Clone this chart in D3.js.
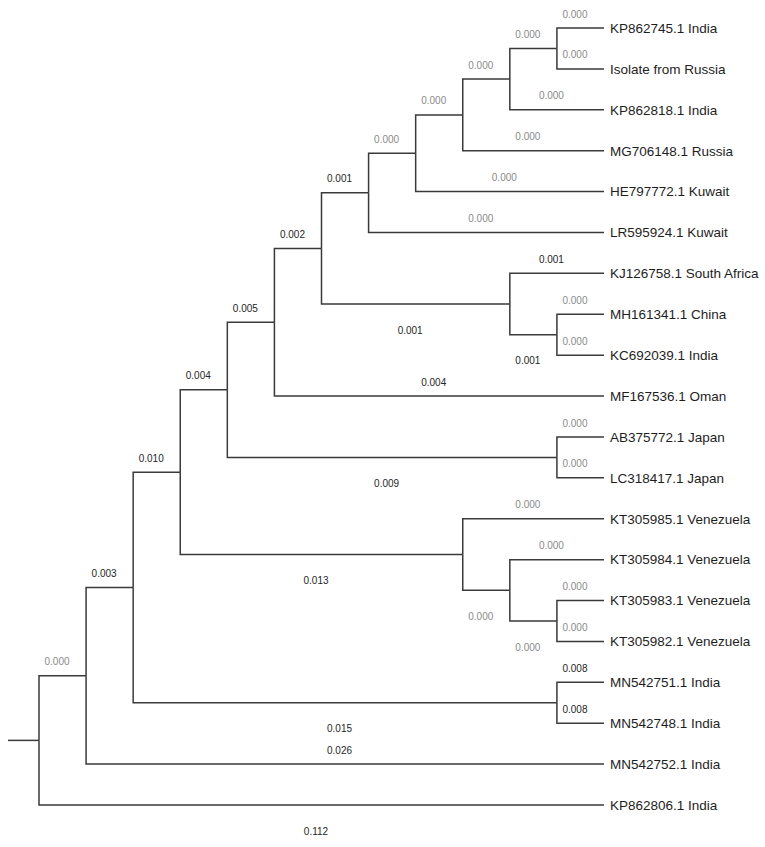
<!DOCTYPE html>
<html>
<head>
<meta charset="utf-8">
<script src="https://cdn.jsdelivr.net/npm/d3@7"></script>
<style>
  body { margin: 0; background: white; }
  .branch { fill: none; stroke: #3a3a3a; stroke-width: 1.5; }
  .tip { font-family: "Liberation Sans", Arial, sans-serif; font-size: 13.5px; fill: #1e1e1e; }
  .blen { font-family: "Liberation Sans", Arial, sans-serif; font-size: 10px; text-anchor: middle; }
</style>
</head>
<body>
<svg id="tree" width="765" height="847"></svg>
<script>
// tree topology: one row per node (id, parent, branch length to parent)
var nodeIds = [
  "root", "n1", "n2", "n3", "n4", "n5", "n6", "n7", "n8", "n9", "n10", "n11",
  "KP862745.1 India", "Isolate from Russia", "KP862818.1 India", "MG706148.1 Russia",
  "HE797772.1 Kuwait", "LR595924.1 Kuwait",
  "sa", "KJ126758.1 South Africa", "mhkc", "MH161341.1 China", "KC692039.1 India",
  "MF167536.1 Oman",
  "jp", "AB375772.1 Japan", "LC318417.1 Japan",
  "ven", "KT305985.1 Venezuela", "ven2", "KT305984.1 Venezuela", "ven3",
  "KT305983.1 Venezuela", "KT305982.1 Venezuela",
  "mn", "MN542751.1 India", "MN542748.1 India",
  "MN542752.1 India", "KP862806.1 India"
];
var parentIds = [
  "", "root", "n1", "n2", "n3", "n4", "n5", "n6", "n7", "n8", "n9", "n10",
  "n11", "n11", "n10", "n9",
  "n8", "n7",
  "n6", "sa", "sa", "mhkc", "mhkc",
  "n5",
  "n4", "jp", "jp",
  "n3", "ven", "ven", "ven2", "ven2",
  "ven3", "ven3",
  "n2", "mn", "mn",
  "n1", "root"
];
var branchLengths = [
  null, 0.000, 0.003, 0.010, 0.004, 0.005, 0.002, 0.001, 0.000, 0.000, 0.000, 0.000,
  0.000, 0.000, 0.000, 0.000,
  0.000, 0.000,
  0.001, 0.001, 0.001, 0.000, 0.000,
  0.004,
  0.009, 0.000, 0.000,
  0.013, 0.000, 0.000, 0.000, 0.000,
  0.000, 0.000,
  0.015, 0.008, 0.008,
  0.026, 0.112
];

var rows = nodeIds.map(function(d, i) {
  return {id: d, parent: parentIds[i], len: branchLengths[i]};
});

var root = d3.stratify()
  .id(function(d) { return d.id; })
  .parentId(function(d) { return d.parent || null; })(rows);

// cladogram: tips aligned, internal nodes placed by height
// d3.cluster pads half a row at each end, so widen the extent by one row
var firstY = 28, lastY = 805, marginL = 39, tipX = 604;
var nLeaves = root.leaves().length;
var rowH = (lastY - firstY) / (nLeaves - 1);
var marginT = firstY - rowH / 2;
d3.cluster()
  .size([rowH * nLeaves, tipX - marginL])
  .separation(function() { return 1; })(root);

var svg = d3.select("#tree");
var g = svg.append("g").attr("transform", "translate(" + marginL + "," + marginT + ")");

// root stub
g.append("path")
  .attr("class", "branch")
  .attr("d", "M" + (8 - marginL) + "," + root.x + "H" + root.y);

// elbow links
g.selectAll(".link")
  .data(root.links())
  .enter().append("path")
  .attr("class", "branch")
  .attr("d", function(d) {
    return "M" + d.source.y + "," + d.source.x + "V" + d.target.x + "H" + d.target.y;
  });

// tip names
g.selectAll(".tip")
  .data(root.leaves())
  .enter().append("text")
  .attr("class", "tip")
  .attr("x", function(d) { return d.y + 6; })
  .attr("y", function(d) { return d.x; })
  .attr("dy", "0.36em")
  .text(function(d) { return d.id; });

// branch lengths
var fmt = d3.format(".3f");
function below(d) {
  var sibs = d.parent.children;
  var last = sibs[sibs.length - 1] === d;
  return last && (d.children || d.parent === root);
}

g.selectAll(".blen")
  .data(root.descendants().filter(function(d) { return d.parent; }))
  .enter().append("text")
  .attr("class", "blen")
  .attr("x", function(d) { return (d.parent.y + d.y) / 2 - 5.5; })
  .attr("y", function(d) { return below(d) ? d.x + 26 : d.x - 14; })
  .attr("dy", "0.36em")
  .attr("fill", function(d) { return d.data.len === 0 ? "#8a8a8a" : "#262626"; })
  .text(function(d) { return fmt(d.data.len); });
</script>
</body>
</html>
